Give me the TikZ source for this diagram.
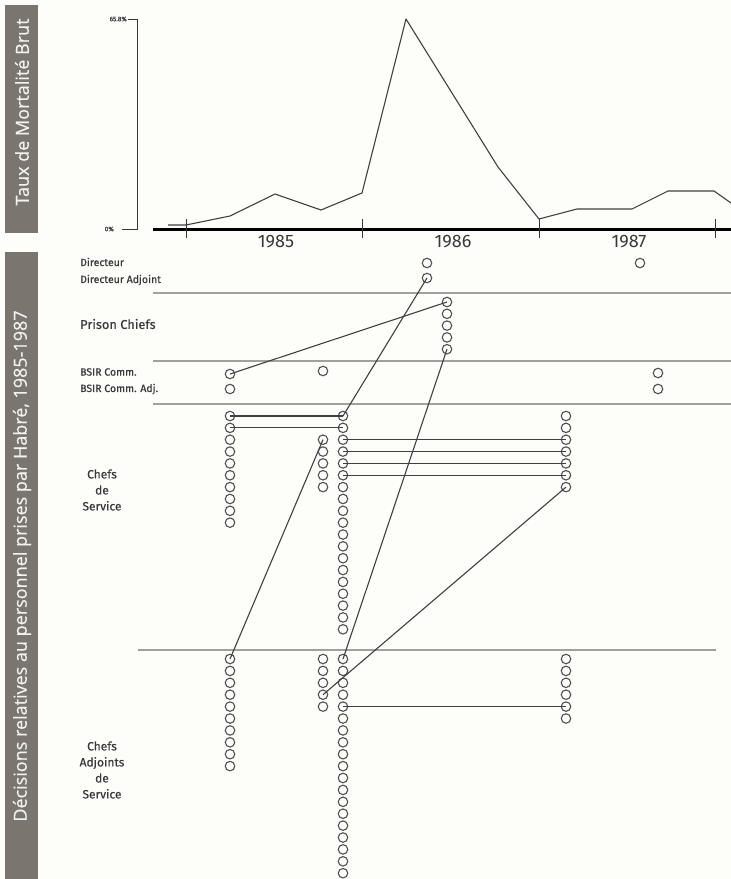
\documentclass[tikz,border=0pt]{standalone}
\usepackage{fontspec}
\setmainfont{Fira Sans}
\newfontfamily\labfont[FakeBold=0.5]{Fira Sans}
\newfontfamily\barfont[FakeBold=0.3]{Open Sans}
\definecolor{bgcol}{HTML}{FDFDF9}
\definecolor{barcol}{HTML}{7A756F}
\definecolor{bartext}{HTML}{F4F2EE}
\definecolor{circcol}{HTML}{505050}
\definecolor{linkcol}{HTML}{404040}
\definecolor{sepcol}{HTML}{A0A09C}
\definecolor{labcol}{HTML}{383838}
\begin{document}
\begin{tikzpicture}[x=1pt,y=-1pt,
  circ/.style={circle,draw=circcol,line width=1.1pt,minimum size=9.5pt,inner sep=0pt},
  link/.style={draw=linkcol,line width=1.1pt},
  sepline/.style={draw=sepcol,line width=1.4pt},
  bartxt/.style={rotate=90,text=bartext,font=\barfont\fontsize{18}{18}\selectfont},
  lab/.style={anchor=west,text=labcol,inner sep=0pt},
  grp/.style={align=center,text=labcol,inner sep=0pt,font=\labfont\fontsize{12}{16}\selectfont},
  yr/.style={text=labcol,inner sep=0pt,font=\fontsize{18}{18}\selectfont}]
\fill[bgcol] (0,0) rectangle (731,879);
\useasboundingbox (0,0) rectangle (731,879);
% side bars
\fill[barcol] (5,5) rectangle (38,233);
\fill[barcol] (5,252) rectangle (38,879);
\node[bartxt] (ttop) at (22,112) {Taux de Mortalité Brut};
\node[bartxt] (tbot) at (22,566) {Décisions relatives au personnel prises par Habré, 1985-1987};
% chart
\draw[line width=1pt,labcol] (128,19) -- (137,19) -- (137,229) -- (122,229);
\node[anchor=east,inner sep=0pt,text=labcol,font=\labfont\fontsize{6.5}{7}\selectfont] (ytop) at (127,19) {65.8\%};
\node[anchor=east,inner sep=0pt,text=labcol,font=\labfont\fontsize{6.5}{7}\selectfont] (ybot) at (114,229) {0\%};
\draw[line width=3pt,black] (153,229) -- (731,229);
\foreach \tx in {186,362,539,715} \draw[line width=0.9pt,labcol] (\tx,219) -- (\tx,238);
\draw[line width=1.1pt,linkcol,line join=round] (168,225) -- (186,225) -- (230,216) -- (275,194) -- (321,210) -- (362,193) -- (406,19) -- (498,167) -- (539,219) -- (577,209) -- (632,209) -- (668,191) -- (714,191) -- (731,203);
\node[yr] (y85) at (276,242) {1985};
\node[yr] (y86) at (453,242) {1986};
\node[yr] (y87) at (629,242) {1987};
% separators
\draw[sepline] (153,293) -- (731,293);
\draw[sepline] (153,361) -- (731,361);
\draw[sepline] (153,404) -- (731,404);
\draw[sepline] (138,650) -- (716,650);
% labels
\node[lab,font=\labfont\fontsize{10.5}{10.5}\selectfont] (lDir) at (80,262) {Directeur};
\node[lab,font=\labfont\fontsize{10.5}{10.5}\selectfont] (lDadj) at (80,280) {Directeur Adjoint};
\node[lab,font=\labfont\fontsize{12.8}{12.8}\selectfont] (lPri) at (80,324) {Prison Chiefs};
\node[lab,font=\labfont\fontsize{10.5}{10.5}\selectfont] (lBs) at (80,372) {BSIR Comm.};
\node[lab,font=\labfont\fontsize{10.5}{10.5}\selectfont] (lBa) at (80,389) {BSIR Comm. Adj.};
\node[grp] (lCS) at (102,490) {Chefs\\de\\Service};
\node[grp] (lCA) at (102,770) {Chefs\\Adjoints\\de\\Service};
% top circles
\node[circ] (dir1) at (427,263) {};
\node[circ] (dir2) at (640,263) {};
\node[circ] (dadj) at (427,278) {};
\foreach \i in {1,...,5} \node[circ] (p\i) at (447,{302+(\i-1)*11.8}) {};
\node[circ] (bs1) at (230,374) {};
\node[circ] (bs2) at (323,371) {};
\node[circ] (bs3) at (658,373) {};
\node[circ] (ba1) at (230,389) {};
\node[circ] (ba2) at (658,389) {};
% chefs de service
\foreach \i in {1,...,10} \node[circ] (sA\i) at (230,{416+(\i-1)*11.85}) {};
\foreach \i in {1,...,5} \node[circ] (sB\i) at (323,{416+(\i+1)*11.85}) {};
\foreach \i in {1,...,19} \node[circ] (sC\i) at (343,{416+(\i-1)*11.85}) {};
\foreach \i in {1,...,7} \node[circ] (sD\i) at (566,{416+(\i-1)*11.85}) {};
% chefs adjoints
\foreach \i in {1,...,10} \node[circ] (aA\i) at (230,{659+(\i-1)*11.9}) {};
\foreach \i in {1,...,5} \node[circ] (aB\i) at (323,{659+(\i-1)*11.9}) {};
\foreach \i in {1,...,19} \node[circ] (aC\i) at (343,{659+(\i-1)*11.9}) {};
\foreach \i in {1,...,6} \node[circ] (aD\i) at (566,{659+(\i-1)*11.9}) {};
% links
\draw[link] (bs1.center) -- (p1.center);
\draw[link] (dadj.center) -- (sC1.center);
\draw[link] (p5.center) -- (aC1.center);
\draw[link] (sA1.center) -- (sC1.center);
\draw[link] (sA2.center) -- (sC2.center);
\foreach \i in {3,4,5,6} \draw[link] (sC\i.center) -- (sD\i.center);
\draw[link] (sB1.center) -- (aA1.center);
\draw[link] (sD7.center) -- (aB4.center);
\draw[link] (aC5.center) -- (aD5.center);
\end{tikzpicture}
\end{document}
